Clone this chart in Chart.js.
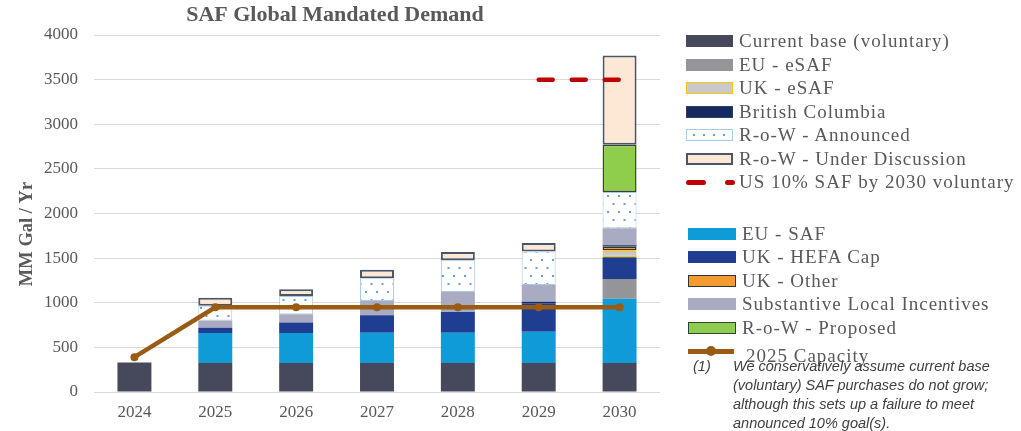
<!DOCTYPE html>
<html>
<head>
<meta charset="utf-8">
<title>SAF Global Mandated Demand</title>
<script src="https://cdn.jsdelivr.net/npm/chart.js@4.4.1/dist/chart.umd.min.js"></script>
<style>
    html, body { margin: 0; padding: 0; background: #fff; }
    #wrap { position: relative; width: 1021px; height: 431px; overflow: hidden; }
    #chartBox { position: absolute; left: 0; top: 0; width: 680px; height: 431px; }
    .legend { position: absolute; left: 0; top: 0; width: 1021px; height: 431px; pointer-events: none;
              font-family: "Liberation Serif", serif; font-size: 19px; letter-spacing: 1px; color: #595959; }
    .row { position: absolute; height: 24px; display: flex; align-items: center; white-space: nowrap; }
    .swatch { position: relative; height: 12px; box-sizing: border-box; flex: none; }
    .note { position: absolute; font-family: "Liberation Sans", Arial, sans-serif; font-style: italic;
            font-size: 14.5px; letter-spacing: 0; line-height: 19px; color: #404040; white-space: nowrap; }
</style>
</head>
<body>
<div id="wrap">
    <div id="chartBox"><canvas id="safChart"></canvas></div>
    <div class="legend" id="legend"></div>
</div>
<script>
// values, MM gal / yr
const years = ['2024', '2025', '2026', '2027', '2028', '2029', '2030']
const currentBase = [330, 325, 325, 325, 325, 325, 325]
const euSaf = [null, 335, 335, 340, 340, 350, 720]
const euESaf = [null, null, null, null, null, null, 220]
const ukHefaCap = [null, 60, 120, 195, 230, 320, 245]
const ukESaf = [null, null, null, null, null, null, 75]
const ukOther = [null, null, null, null, null, null, 45]
const britishColumbia = [null, null, null, null, null, 15, 15]
const localIncentives = [null, 80, 90, 160, 225, 190, 190]
const rowAnnounced = [null, 165, 205, 255, 355, 375, 405]
const rowProposed = [null, null, null, null, null, null, 530]
const rowUnderDiscussion = [null, 90, 75, 95, 95, 95, 1000]
const us10Target = [null, null, null, null, null, 3500, 3500]
const capacity2025 = [390, 950, 950, 950, 950, 950, 950]
const yTicks = [0, 500, 1000, 1500, 2000, 2500, 3000, 3500, 4000]

const titleText = 'SAF Global Mandated Demand'
const yTitle = 'MM Gal / Yr'
const noteLines = [
    'We conservatively assume current base',
    '(voluntary) SAF purchases do not grow;',
    'although this sets up a failure to meet',
    'announced 10% goal(s).'
]

const C = {
    base: '#46485c',
    euSaf: '#0f9bd7',
    euESaf: '#939598',
    ukHefa: '#1f3d91',
    ukESaf: '#c9c9c9',
    yellow: '#f5c518',
    ukOther: '#f29b30',
    bc: '#142b5e',
    local: '#a9abc2',
    dots: '#6a9fd4',
    dotsEdge: '#a9cbe8',
    proposed: '#8fcd4c',
    proposedEdge: '#2f4536',
    peach: '#fde8d5',
    peachEdge: '#4a5568',
    red: '#c00000',
    brown: '#9a5b13',
    text: '#595959',
    grid: '#d9d9d9'
}

function main() {
    buildChart('safChart')
    buildLegend('legend')
}

// white fill with small light-blue dots
function dotPattern() {
    const c = document.createElement('canvas')
    c.width = 11
    c.height = 16
    const g = c.getContext('2d')
    g.fillStyle = '#ffffff'
    g.fillRect(0, 0, 11, 16)
    g.fillStyle = C.dots
    g.fillRect(2, 3, 2, 2)
    g.fillRect(7.5, 11, 2, 2)
    return g.createPattern(c, 'repeat')
}

function bar(label, data, fill, extra) {
    return Object.assign({
        type: 'bar',
        label: label,
        data: data,
        backgroundColor: fill,
        borderWidth: 0,
        stack: 'demand',
        order: 2,
        categoryPercentage: 1,
        barPercentage: 0.42
    }, extra || {})
}

function datasets() {
    return [
        bar('Current base (voluntary)', currentBase, C.base),
        bar('EU - SAF', euSaf, C.euSaf),
        bar('EU - eSAF', euESaf, C.euESaf),
        bar('UK - HEFA Cap', ukHefaCap, C.ukHefa),
        bar('UK - eSAF', ukESaf, C.ukESaf, { borderColor: C.yellow, borderWidth: 1.5, borderSkipped: false }),
        bar('UK - Other', ukOther, C.ukOther, { borderColor: '#333333', borderWidth: 1.5, borderSkipped: false }),
        bar('British Columbia', britishColumbia, C.bc),
        bar('Substantive Local Incentives', localIncentives, C.local),
        bar('R-o-W - Announced', rowAnnounced, dotPattern(), { borderColor: C.dotsEdge, borderWidth: 1, borderSkipped: false }),
        bar('R-o-W - Proposed', rowProposed, C.proposed, { borderColor: C.proposedEdge, borderWidth: 1.5, borderSkipped: false }),
        bar('R-o-W - Under Discussion', rowUnderDiscussion, C.peach, { borderColor: C.peachEdge, borderWidth: 2, borderSkipped: false }),
        {
            type: 'line',
            label: 'US 10% SAF by 2030 voluntary',
            data: us10Target,
            borderColor: C.red,
            borderWidth: 4.5,
            borderDash: [14, 19],
            borderCapStyle: 'round',
            pointRadius: 0,
            stack: 'us',
            order: 0
        },
        {
            type: 'line',
            label: '2025 Capacity',
            data: capacity2025,
            borderColor: C.brown,
            borderWidth: 4.5,
            pointRadius: 4,
            pointBackgroundColor: C.brown,
            pointBorderWidth: 0,
            tension: 0,
            stack: 'capacity',
            order: 0
        }
    ]
}

// rotated y axis caption, sits a little below the axis middle
const axisCaption = {
    id: 'axisCaption',
    afterDraw(chart) {
        const ctx = chart.ctx
        ctx.save()
        ctx.translate(27, 234)
        ctx.rotate(-Math.PI / 2)
        ctx.font = 'bold 18.5px "Liberation Serif", serif'
        ctx.fillStyle = C.text
        ctx.textAlign = 'center'
        ctx.textBaseline = 'middle'
        ctx.fillText(yTitle, 0, 0)
        ctx.restore()
    }
}

function buildChart(canvasId) {
    const ctx = document.getElementById(canvasId)
    Chart.defaults.font.family = '"Liberation Serif", serif'
    Chart.defaults.color = C.text

    new Chart(ctx, {
        data: {
            labels: years,
            datasets: datasets()
        },
        options: {
            responsive: true,
            maintainAspectRatio: false,
            animation: false,
            layout: { padding: { left: 10, right: 20, top: 0, bottom: 0 } },
            plugins: {
                legend: { display: false },
                tooltip: { enabled: false },
                title: {
                    display: true,
                    text: titleText,
                    color: C.text,
                    font: { size: 22, weight: 'bold' },
                    padding: { top: 2, bottom: 6.6 }
                }
            },
            scales: {
                x: {
                    stacked: true,
                    grid: { display: false, drawTicks: false },
                    border: { display: false },
                    ticks: { font: { size: 17 }, color: C.text, padding: 10 },
                    afterFit(scale) { scale.height = 39 }
                },
                y: {
                    stacked: true,
                    min: 0,
                    max: 4000,
                    grid: { color: C.grid, lineWidth: 1, drawTicks: false },
                    border: { display: false },
                    ticks: { font: { size: 17 }, color: C.text, padding: 16, callback: v => String(v) },
                    afterBuildTicks(scale) { scale.ticks = yTicks.map(v => ({ value: v })) },
                    afterFit(scale) { scale.width = 84 }
                }
            }
        },
        plugins: [axisCaption]
    })
}

// legend swatches
function swatchHtml(kind, w) {
    const s = 'width:' + w + 'px;'
    switch (kind) {
        case 'base': return '<div class="swatch" style="' + s + 'background:' + C.base + '"></div>'
        case 'euESaf': return '<div class="swatch" style="' + s + 'background:' + C.euESaf + '"></div>'
        case 'ukESaf': return '<div class="swatch" style="' + s + 'background:' + C.ukESaf + ';border:1.5px solid ' + C.yellow + '"></div>'
        case 'bc': return '<div class="swatch" style="' + s + 'background:' + C.bc + ';border:1px solid #2c3f6e"></div>'
        case 'announced': return '<div class="swatch" style="' + s + 'border:1px solid ' + C.dotsEdge + ';background:radial-gradient(circle,' + C.dots + ' 0.8px,transparent 1.3px) 2px 0/10px 10px,#fff"></div>'
        case 'discussion': return '<div class="swatch" style="' + s + 'background:' + C.peach + ';border:2px solid ' + C.peachEdge + '"></div>'
        case 'us': return '<div class="swatch" style="' + s + '">' +
            '<div style="position:absolute;left:0;top:3.5px;width:20px;height:5px;border-radius:3px;background:' + C.red + '"></div>' +
            '<div style="position:absolute;left:39px;top:3.5px;width:10px;height:5px;border-radius:3px;background:' + C.red + '"></div></div>'
        case 'euSaf': return '<div class="swatch" style="' + s + 'background:' + C.euSaf + '"></div>'
        case 'ukHefa': return '<div class="swatch" style="' + s + 'background:' + C.ukHefa + '"></div>'
        case 'ukOther': return '<div class="swatch" style="' + s + 'background:' + C.ukOther + ';border:1.5px solid #333"></div>'
        case 'local': return '<div class="swatch" style="' + s + 'background:' + C.local + '"></div>'
        case 'proposed': return '<div class="swatch" style="' + s + 'background:' + C.proposed + ';border:1.5px solid ' + C.proposedEdge + '"></div>'
        case 'capacity': return '<div class="swatch" style="' + s + '">' +
            '<div style="position:absolute;left:0;top:3.5px;width:' + w + 'px;height:5px;background:' + C.brown + '"></div>' +
            '<div style="position:absolute;left:' + (w / 2 - 5) + 'px;top:1px;width:10px;height:10px;border-radius:50%;background:' + C.brown + '"></div></div>'
    }
    return ''
}

function buildLegend(id) {
    const box = document.getElementById(id)
    const topBlock = [
        ['base', 'Current base (voluntary)'],
        ['euESaf', 'EU - eSAF'],
        ['ukESaf', 'UK - eSAF'],
        ['bc', 'British Columbia'],
        ['announced', 'R-o-W - Announced'],
        ['discussion', 'R-o-W - Under Discussion'],
        ['us', 'US 10% SAF by 2030 voluntary']
    ]
    const lowBlock = [
        ['euSaf', 'EU - SAF'],
        ['ukHefa', 'UK - HEFA Cap'],
        ['ukOther', 'UK - Other'],
        ['local', 'Substantive Local Incentives'],
        ['proposed', 'R-o-W - Proposed']
    ]
    let html = ''
    topBlock.forEach((e, i) => {
        const cy = 41 + i * 23.5
        html += '<div class="row" style="left:686px;top:' + (cy - 12) + 'px">' + swatchHtml(e[0], 47) +
            '<span style="margin-left:6px">' + e[1] + '</span></div>'
    })
    lowBlock.forEach((e, i) => {
        const cy = 233.5 + i * 23.5
        html += '<div class="row" style="left:688px;top:' + (cy - 12) + 'px">' + swatchHtml(e[0], 48) +
            '<span style="margin-left:6px">' + e[1] + '</span></div>'
    })
    html += '<div class="row" style="left:688px;top:' + (351 - 12) + 'px">' + swatchHtml('capacity', 46) + '</div>'
    html += '<div class="row" style="left:746px;top:' + (356 - 12) + 'px">2025 Capacity</div>'
    html += '<div class="note" style="left:693px;top:357px">(1)</div>'
    html += '<div class="note" style="left:733px;top:357px">' + noteLines.join('<br>') + '</div>'
    box.innerHTML = html
}

document.addEventListener('DOMContentLoaded', main)
</script>
</body>
</html>
